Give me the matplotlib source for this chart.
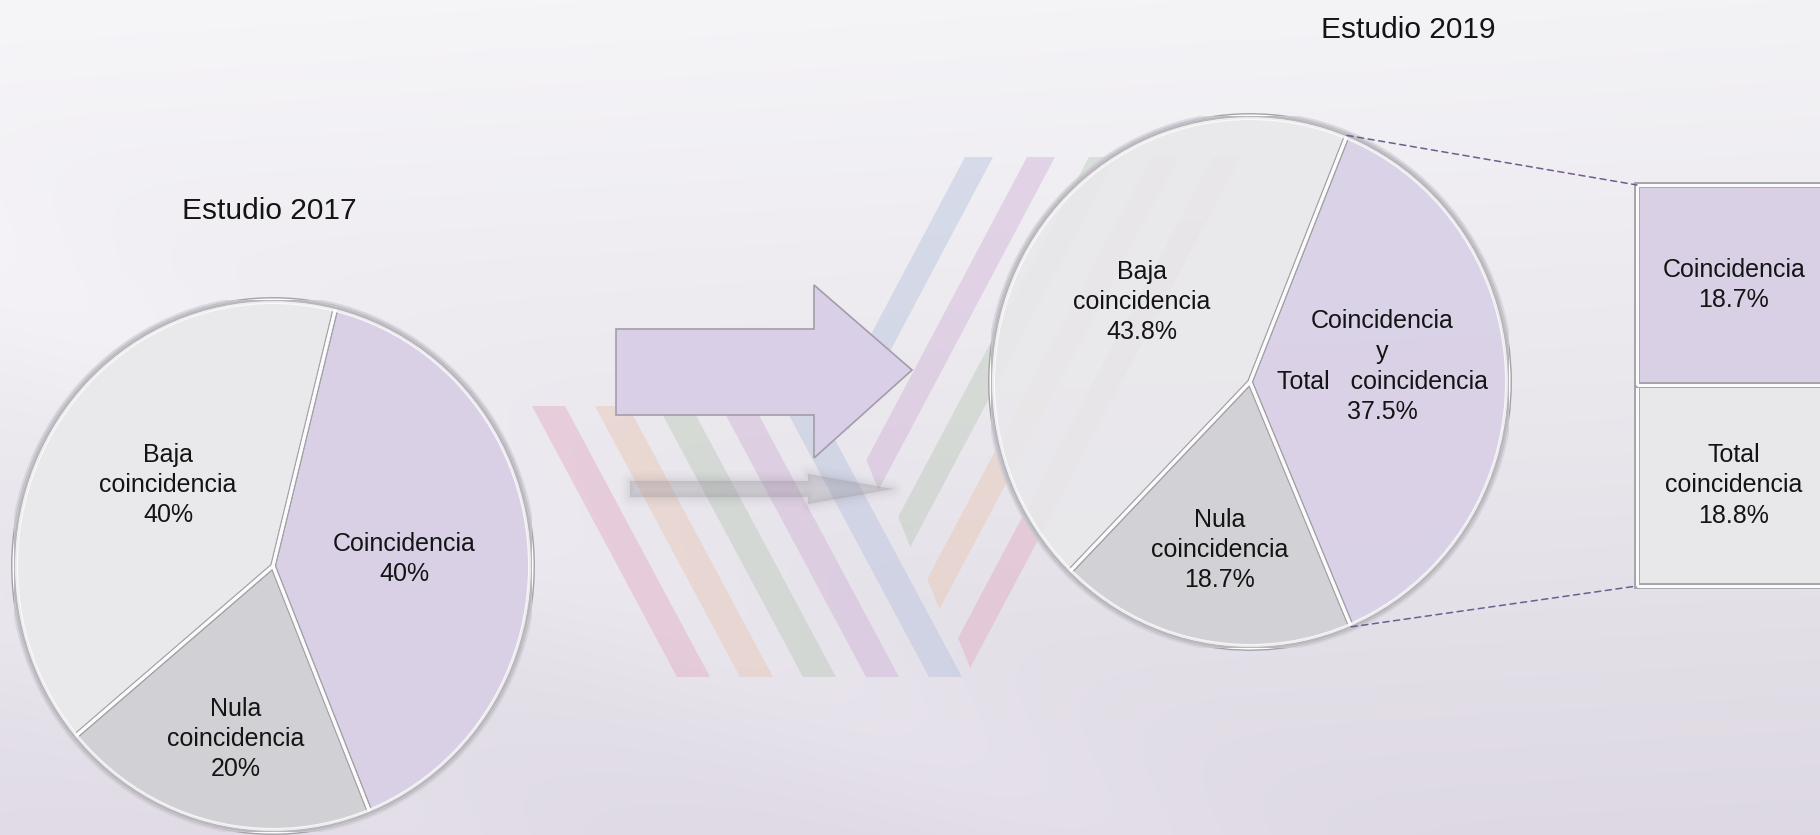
import numpy as np
import matplotlib
matplotlib.use("Agg")
import matplotlib.pyplot as plt
from matplotlib.patches import Polygon, Circle, ConnectionPatch

# ---------------- data ----------------
titles = ["Estudio 2017", "Estudio 2019"]
cats_2017 = ["Coincidencia", "Nula\ncoincidencia", "Baja\ncoincidencia"]
vals_2017 = [40, 20, 40]
cats_2019 = ["Coincidencia\ny\nTotal   coincidencia", "Nula\ncoincidencia", "Baja\ncoincidencia"]
vals_2019 = [37.5, 18.7, 43.8]
bar_cats = ["Coincidencia", "Total\ncoincidencia"]
bar_vals = [18.7, 18.8]

# ---------------- style ----------------
W, H = 1820, 835
plt.rcParams["font.family"] = ["Liberation Sans", "DejaVu Sans"]
slice_colors = ["#d9d0e6", "#d1d0d4", "#e9e8eb"]
bar_colors = ["#d9d0e6", "#e8e7ea"]
LABEL_FS = 18
LSP = 1.32
TEXT_COLOR = "#141414"

fig = plt.figure(figsize=(W / 100, H / 100), dpi=100)


def fig_rect(x0, y0, x1, y1):
    return [x0 / W, 1 - y1 / H, (x1 - x0) / W, (y1 - y0) / H]


# ---------------- background ----------------
bg = fig.add_axes([0, 0, 1, 1])
bg.set_xlim(0, W)
bg.set_ylim(H, 0)
bg.axis("off")
yy, xx = np.mgrid[0:H, 0:W]
t = (yy / H) ** 1.1
top = np.array([246, 245, 248]) / 255
bot = np.array([224, 219, 229]) / 255
img = top[None, None, :] * (1 - t[..., None]) + bot[None, None, :] * t[..., None]
img = img - 0.012 * (xx / W)[..., None]
for c0, amp, wdt in [(250, 0.018, 90), (560, 0.014, 70), (900, 0.012, 120)]:
    d = (xx * 0.45 - yy * 0.89) + c0
    img = img + amp * np.exp(-(d / wdt) ** 2)[..., None]
img = np.clip(img, 0, 1)
bg.imshow(img, extent=[0, W, H, 0], aspect="auto", zorder=0)

# decorative stripes
band_cols = ["#e2a8c2", "#e8c3ae", "#b8c8b5", "#ceafd5", "#b2c0dc"]
back_x = [532, 595, 658, 721, 784]
for x, c in zip(back_x, band_cols):
    bg.add_patch(Polygon([(x, 406), (x + 33, 406), (x + 178, 677), (x + 145, 677)],
                         closed=True, facecolor=c, edgecolor="none", alpha=0.42, zorder=1))
fwd_cols = ["#b2c0dc", "#ceafd5", "#b8c8b5", "#e8c3ae", "#e2a8c2"]
fwd_x = [965, 1027, 1089, 1151, 1213]
fwd_bot = [400, 460, 517, 579, 638]
for x, yb, c in zip(fwd_x, fwd_bot, fwd_cols):
    yb2 = yb + 30
    pts = [(x, 157), (x + 28, 157), (x + 28 - 0.53 * (yb2 - 157), yb2), (x - 0.53 * (yb - 157), yb)]
    bg.add_patch(Polygon(pts, closed=True, facecolor=c, edgecolor="none", alpha=0.42, zorder=1))

# arrow shadow (soft)
shadow = [(630, 481), (808, 481), (808, 474), (893, 489), (808, 504), (808, 497), (630, 497)]
for lw, a in [(14, 0.03), (9, 0.04), (5, 0.05), (2, 0.06)]:
    bg.add_patch(Polygon(shadow, closed=True, facecolor="none", edgecolor="#8c8892",
                         lw=lw, alpha=a, joinstyle="round", zorder=2))
bg.add_patch(Polygon(shadow, closed=True, facecolor="#8c8892", edgecolor="none", alpha=0.28, zorder=2))

# arrow
arrow = [(616, 329), (814, 329), (814, 285), (912, 370), (814, 458), (814, 415), (616, 415)]
bg.add_patch(Polygon(arrow, closed=True, facecolor="#d9cfe7", edgecolor="#a39da9", lw=1.2, zorder=3))


# ---------------- pies ----------------
def draw_pie(rect, cats, vals, start, radii, offsets, alpha):
    ax = fig.add_axes(rect)
    cols = [matplotlib.colors.to_rgba(c, alpha) for c in slice_colors]
    wedges, _ = ax.pie(vals, startangle=start, counterclock=False, colors=cols, radius=1,
                       wedgeprops=dict(edgecolor="#a4a2a8", linewidth=4.2))
    ax.pie(vals, startangle=start, counterclock=False, radius=1,
           wedgeprops=dict(facecolor="none", edgecolor="#fbfbfb", linewidth=2.2))
    ax.add_patch(Circle((0, 0), 1.0, fill=False, edgecolor="#b9b7bd", lw=2.0, zorder=5))
    ax.add_patch(Circle((0, 0), 0.99, fill=False, edgecolor="white", lw=2.0, alpha=0.8, zorder=5))
    ax.add_patch(Circle((0, 0), 1.012, fill=False, edgecolor="#d2ced6", lw=2.5, alpha=0.7, zorder=4))
    ax.set_aspect("auto")
    ax.set_xlim(-1, 1)
    ax.set_ylim(-1, 1)
    ax.axis("off")
    for w, cat, v, r, off in zip(wedges, cats, vals, radii, offsets):
        mid = np.deg2rad((w.theta1 + w.theta2) / 2 + off)
        ax.text(r * np.cos(mid), r * np.sin(mid), f"{cat}\n{v:g}%", ha="center", va="center",
                fontsize=LABEL_FS, color=TEXT_COLOR, linespacing=LSP, zorder=10)
    return ax, wedges


ax1, w1 = draw_pie(fig_rect(14, 300, 532, 832), cats_2017, vals_2017, 76,
                   [0.507, 0.666, 0.507], [-1, 1.6, -5], 1.0)
ax2, w2 = draw_pie(fig_rect(991, 116, 1509, 648), cats_2019, vals_2019, 68,
                   [0.513, 0.643, 0.514], [6, 0, -2.6], 0.92)

# ---------------- bar of pie ----------------
bax = fig.add_axes(fig_rect(1637, 185, 1831, 586))
total = sum(bar_vals)
bottom = 0
for cat, v, c in reversed(list(zip(bar_cats, bar_vals, bar_colors))):
    bax.bar(0, v, bottom=bottom, width=1, color=c, edgecolor="#a4a2a8", linewidth=4.2, clip_on=False)
    bax.bar(0, v, bottom=bottom, width=1, color="none", edgecolor="#fbfbfb", linewidth=2.2, clip_on=False)
    bax.text(0, bottom + v / 2, f"{cat}\n{v:g}%", ha="center", va="center",
             fontsize=LABEL_FS, color=TEXT_COLOR, linespacing=LSP)
    bottom += v
bax.set_xlim(-0.5, 0.5)
bax.set_ylim(0, total)
bax.axis("off")

# connectors
purple = w2[0]
for ang, yb in [(purple.theta2, total), (purple.theta1, 0)]:
    a = np.deg2rad(ang)
    cp = ConnectionPatch(xyA=(np.cos(a), np.sin(a)), xyB=(-0.5, yb),
                         coordsA=ax2.transData, coordsB=bax.transData,
                         linestyle=(0, (4, 3)), color="#6e5d90", lw=1.1)
    fig.add_artist(cp)

# titles
fig.text(269 / W, 1 - 211 / H, titles[0], ha="center", va="center", fontsize=21.5, color=TEXT_COLOR)
fig.text(1408 / W, 1 - 30 / H, titles[1], ha="center", va="center", fontsize=21.5, color=TEXT_COLOR)

fig.savefig("out.png", dpi=100)
